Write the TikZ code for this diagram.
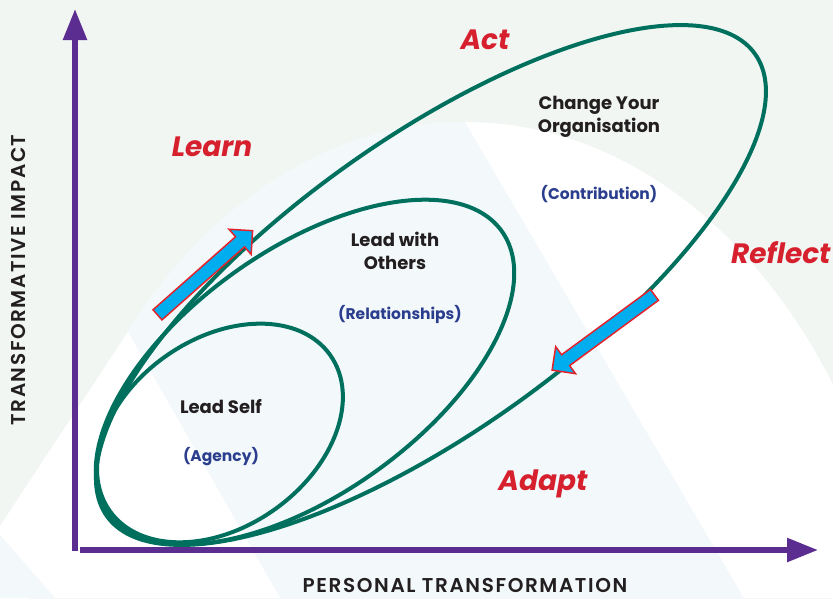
\documentclass[tikz,border=0pt]{standalone}
\usepackage{fontspec}
\setmainfont{Poppins}
\newfontfamily\axisfont{Poppins SemiBold}[LetterSpace=8]
\usetikzlibrary{arrows.meta,shapes.arrows}

\definecolor{bgmint}{HTML}{F1F6F3}
\definecolor{bgblue}{HTML}{F3F8FB}
\definecolor{loopgreen}{HTML}{00705E}
\definecolor{axispurple}{HTML}{5C2D91}
\definecolor{cyclered}{HTML}{D7202E}
\definecolor{textblue}{HTML}{2B3E8E}
\definecolor{textdark}{HTML}{231F20}
\definecolor{arrowcyan}{HTML}{00AEEF}
\definecolor{arrowred}{HTML}{E3232C}

\begin{document}
\begin{tikzpicture}[x=1pt, y=-1pt,
    loopline/.style = {draw=loopgreen, line width=4pt},
    axisline/.style = {draw=axispurple, line width=5.6pt,
      -{Triangle[length=31pt,width=23pt]}},
    area/.style     = {font=\bfseries\fontsize{18}{22.5}\selectfont,
      text=textdark, align=center, inner sep=0pt},
    value/.style    = {font=\bfseries\fontsize{15.5}{18}\selectfont,
      text=textblue, inner sep=0pt, anchor=base},
    stage/.style    = {font=\bfseries\itshape\fontsize{28}{30}\selectfont,
      text=cyclered, inner sep=0pt, anchor=base},
    axislabel/.style = {font=\axisfont\fontsize{20}{22}\selectfont,
      text=textdark, inner sep=0pt, anchor=base},
    flow/.style     = {single arrow, draw=arrowred, fill=arrowcyan,
      line width=1.5pt, inner xsep=0pt, inner ysep=6pt,
      single arrow head extend=10pt, minimum height=127pt},
  ]
  \useasboundingbox (0,0) rectangle (833,598);

  % background
  \fill[bgmint] (0,0) rectangle (833,598);
  \fill[bgblue] (465,722) ellipse [x radius=445, y radius=600];
  \begin{scope}
    \clip (465,722) ellipse [x radius=445, y radius=600];
    \fill[white] (465,122) -- (744,598) -- (833,598) -- (833,0) -- cycle;
  \end{scope}
  \fill[white] (128,332) -- (280,598) -- (0,598) -- (0,526) -- cycle;
  \fill[bgblue] (0,535) -- (55,598) -- (0,598) -- cycle;

  % the three loops
  \coordinate (self)   at (220,433);
  \coordinate (others) at (305,372);
  \coordinate (org)    at (431,285);
  \draw[loopline, rotate around={35.5:(org)}] (org)
    ellipse [x radius=398, y radius=146];
  \draw[loopline, rotate around={35.6:(others)}] (others)
    ellipse [x radius=242, y radius=122];
  \draw[loopline, rotate around={35.2:(self)}] (self)
    ellipse [x radius=135, y radius=94];

  % axes
  \coordinate (origin) at (75,551);
  \coordinate (ytip)   at (75,9);
  \coordinate (xstart) at (80,550);
  \coordinate (xtip)   at (818,550);
  \draw[axisline] (origin) -- (ytip);
  \draw[axisline] (xstart) -- (xtip);

  \node[axislabel] (xlabel) at (465,592) {PERSONAL TRANSFORMATION};
  \node[axislabel, rotate=90] (ylabel) at (25,280) {TRANSFORMATIVE IMPACT};

  % loop texts
  \node[area, anchor=base] (selftxt) at (221,413) {Lead Self};
  \node[value] (selfval) at (221,461) {(Agency)};
  \node[area, anchor=north] (otherstxt) at (395,232) {Lead with\\Others};
  \node[value] (othersval) at (400,319) {(Relationships)};
  \node[area, anchor=north] (orgtxt) at (599,96) {Change Your\\Organisation};
  \node[value] (orgval) at (599,199) {(Contribution)};

  % cycle
  \node[stage] (learn) at (212,156) {Learn};
  \node[stage] (act) at (485,49) {Act};
  \node[stage, anchor=base west] (reflect) at (731,263) {Reflect};
  \node[stage] (adapt) at (543,490) {Adapt};

  \node[flow, rotate=41.5] (upflow) at (202.5,275) {};
  \node[flow, rotate=216.3] (downflow) at (606,330.5) {};
\end{tikzpicture}
\end{document}
